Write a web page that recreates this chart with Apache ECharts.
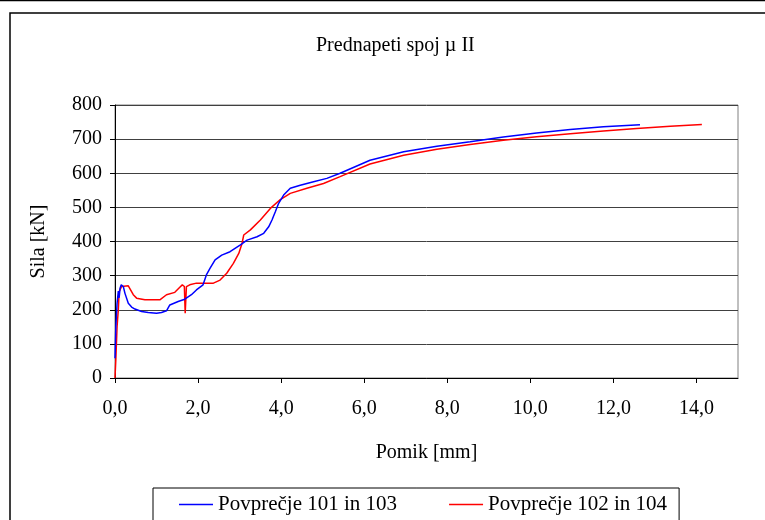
<!DOCTYPE html>
<html>
<head>
<meta charset="utf-8">
<script src="https://cdn.jsdelivr.net/npm/echarts@6/dist/echarts.min.js"></script>
<style>
html,body{margin:0;padding:0;background:#fff;}
#c{width:765px;height:520px;}
</style>
</head>
<body>
<div id="c"></div>
<script>
var titleText = 'Prednapeti spoj \u00b5 II';
var xName = 'Pomik [mm]';
var yName = 'Sila [kN]';
var seriesNames = ['Povpre\u010dje 101 in 103', 'Povpre\u010dje 102 in 104'];
var xTicks = [0, 2, 4, 6, 8, 10, 12, 14];

var blueX = [0, 0.02, 0.05, 0.08, 0.1, 0.12, 0.15, 0.2, 0.24, 0.32, 0.4, 0.48, 0.64, 0.8, 1.0, 1.12, 1.24, 1.32, 1.52, 1.68, 1.84, 1.96, 2.12, 2.2, 2.29, 2.41, 2.57, 2.77, 3.02, 3.18, 3.42, 3.58, 3.70, 3.78, 3.86, 3.94, 4.06, 4.22, 4.46, 4.78, 5.10, 5.42, 6.14, 6.95, 7.75, 8.55, 9.35, 10.15, 10.96, 11.76, 12.64];
var blueY = [58, 150, 219, 255, 235, 262, 273, 268, 248, 219, 208, 202, 195, 192, 190, 192, 197, 214, 224, 231, 244, 258, 273, 302, 322, 346, 360, 370, 390, 404, 414, 424, 443, 463, 487, 512, 536, 556, 565, 575, 585, 600, 638, 663, 679, 692, 706, 718, 728, 736, 742];

var redX = [0, 0.02, 0.05, 0.08, 0.1, 0.16, 0.32, 0.36, 0.44, 0.52, 0.72, 1.08, 1.24, 1.44, 1.56, 1.62, 1.67, 1.69, 1.70, 1.72, 1.80, 1.96, 2.16, 2.37, 2.53, 2.69, 2.85, 2.98, 3.06, 3.10, 3.26, 3.50, 3.74, 3.98, 4.22, 4.62, 5.02, 5.42, 6.14, 6.95, 7.75, 8.55, 9.35, 10.15, 10.96, 11.76, 12.56, 13.37, 14.13];
var redY = [0, 54, 151, 200, 253, 268, 270, 268, 244, 234, 229, 229, 244, 251, 266, 273, 268, 190, 190, 268, 273, 278, 278, 278, 287, 307, 336, 365, 395, 419, 434, 463, 497, 523, 541, 556, 570, 590, 627, 653, 670, 684, 697, 707, 716, 724, 731, 738, 743];

function pairs(xs, ys) {
  var out = [];
  for (var i = 0; i < xs.length; i++) out.push([xs[i], ys[i]]);
  return out;
}

var FONT = '"Liberation Serif", "Times New Roman", serif';
var chart = echarts.init(document.getElementById('c'), null, {renderer: 'canvas'});
chart.setOption({
  animation: false,
  backgroundColor: '#fff',
  textStyle: {fontFamily: FONT, color: '#000'},
  graphic: [
    {type: 'line', shape: {x1: 0, y1: 0.5, x2: 765, y2: 0.5}, style: {stroke: '#000', lineWidth: 1.5}, silent: true},
    {type: 'rect', shape: {x: 10, y: 13, width: 800, height: 600}, style: {fill: 'none', stroke: '#000', lineWidth: 1.5}, silent: true, z: -1}
  ],
  title: {
    text: titleText,
    left: 311, top: 31,
    textStyle: {fontFamily: FONT, fontSize: 20, fontWeight: 'normal', color: '#000'}
  },
  legend: {
    left: 153, top: 488,
    padding: [6, 12, 40, 26],
    borderColor: '#000', borderWidth: 1,
    icon: 'rect',
    itemWidth: 34, itemHeight: 1.5, itemGap: 52,
    textStyle: {fontFamily: FONT, fontSize: 21, color: '#000'},
    data: seriesNames
  },
  grid: {
    left: 115, right: 27, top: 105, bottom: 142,
    show: true, borderColor: '#808080', borderWidth: 1, backgroundColor: '#fff'
  },
  xAxis: {
    type: 'value', min: 0, max: 15, interval: 2,
    name: xName, nameLocation: 'middle', nameGap: 65,
    nameTextStyle: {fontFamily: FONT, fontSize: 20, color: '#000'},
    axisLine: {lineStyle: {color: '#000', width: 1}},
    axisTick: {show: true, inside: false, length: 5, lineStyle: {color: '#000'}, customValues: xTicks},
    axisLabel: {
      margin: 21, fontFamily: FONT, fontSize: 20, color: '#000',
      customValues: xTicks,
      formatter: function (v) { return v.toFixed(1).replace('.', ','); }
    },
    splitLine: {show: false}
  },
  yAxis: {
    type: 'value', min: 0, max: 800, interval: 100,
    name: yName, nameLocation: 'middle', nameGap: 66, nameRotate: 90,
    nameTextStyle: {fontFamily: FONT, fontSize: 20, color: '#000'},
    axisLine: {show: true, lineStyle: {color: '#000', width: 1}},
    axisTick: {show: true, inside: false, length: 5, lineStyle: {color: '#000'}},
    axisLabel: {margin: 13, fontFamily: FONT, fontSize: 20, color: '#000'},
    splitLine: {show: true, lineStyle: {color: '#404040', width: 1}}
  },
  series: [
    {
      name: seriesNames[0], type: 'line', data: pairs(blueX, blueY),
      showSymbol: false, symbol: 'none',
      lineStyle: {color: '#0000ff', width: 1.5},
      itemStyle: {color: '#0000ff'}, z: 3
    },
    {
      name: seriesNames[1], type: 'line', data: pairs(redX, redY),
      showSymbol: false, symbol: 'none',
      lineStyle: {color: '#ff0000', width: 1.5},
      itemStyle: {color: '#ff0000'}, z: 2
    }
  ]
});
</script>
</body>
</html>
